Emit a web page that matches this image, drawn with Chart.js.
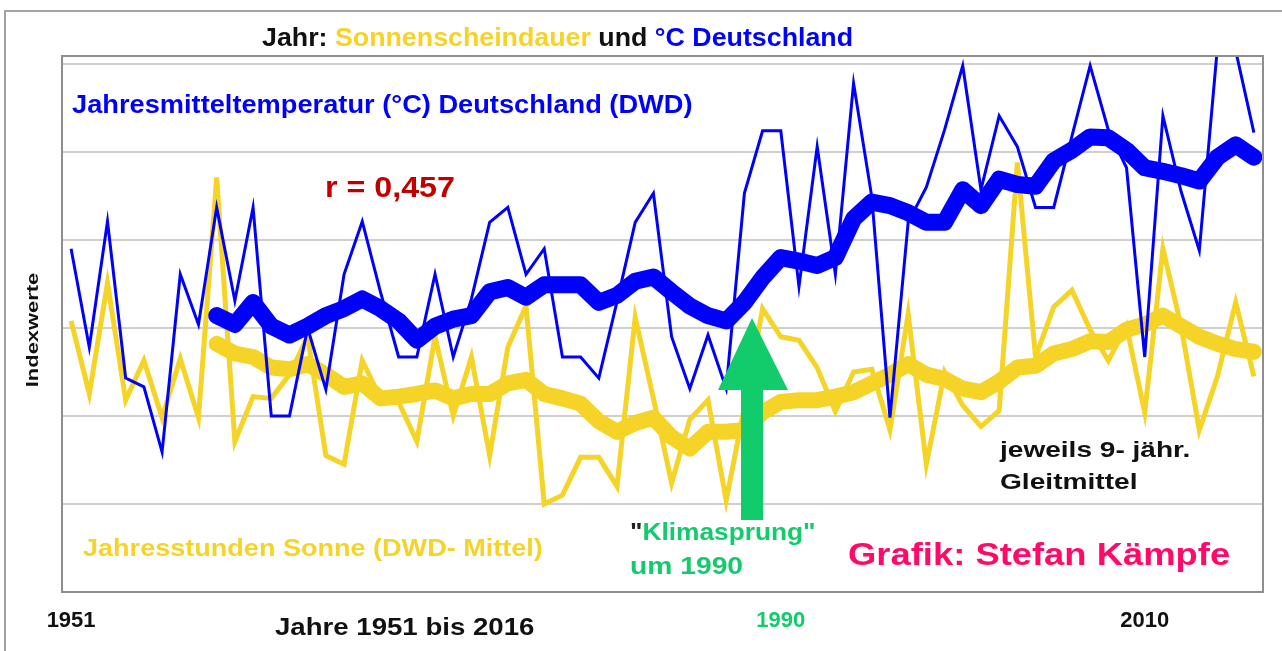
<!DOCTYPE html>
<html lang="de">
<head>
<meta charset="utf-8">
<title>Jahr: Sonnenscheindauer und °C Deutschland</title>
<script src="https://cdn.jsdelivr.net/npm/chart.js@4.4.1/dist/chart.umd.min.js"></script>
<style>
    html, body { margin: 0; padding: 0; background: #fff; }
    body { width: 1282px; height: 651px; position: relative; overflow: hidden;
           font-family: 'Liberation Sans', Arial, sans-serif; }
    #frame { position: absolute; left: 4px; top: 10px; width: 1300px; height: 700px;
             border: 2px solid #a3a3a3; box-sizing: border-box; }
    #chart { position: absolute; left: 0; top: 0; }
    .note { position: absolute; white-space: nowrap; font-weight: bold;
            transform-origin: left center; line-height: 1; }
    .yel { color: #f5d327; }
    .blu { color: #0000ff; }
    .grn { color: #12cc6c; }
    #arrow { position: absolute; left: 0; top: 0; }
</style>
</head>
<body>
<div id="frame"></div>
<canvas id="chart" width="1282" height="651"></canvas>
<svg id="arrow" width="1282" height="651">
    <polygon points="741,520 763,520 763,390 788,390 752,318 718,390 741,390" fill="#12cc6c"/>
</svg>

<div class="note" data-x="262" data-y="37" data-w="591" style="font-size:26px;color:#111">Jahr: <span class="yel">Sonnenscheindauer</span> und <span class="blu">°C Deutschland</span></div>
<div class="note blu" data-x="72" data-y="104" data-w="621" style="font-size:25px">Jahresmitteltemperatur (°C) Deutschland (DWD)</div>
<div class="note" data-x="325" data-y="187" data-w="130" style="font-size:29px;color:#c00000">r = 0,457</div>
<div class="note yel" data-x="83" data-y="548" data-w="460" style="font-size:24px">Jahresstunden Sonne (DWD- Mittel)</div>
<div class="note grn" data-x="630" data-y="532" data-w="185" style="font-size:24px"><span style="color:#222">"</span>Klimasprung"</div>
<div class="note grn" data-x="630" data-y="566" data-w="113" style="font-size:24px">um 1990</div>
<div class="note" data-x="1000" data-y="450" data-w="190" style="font-size:22px;color:#111">jeweils 9- jähr.</div>
<div class="note" data-x="1000" data-y="482" data-w="138" style="font-size:22px;color:#111">Gleitmittel</div>
<div class="note" data-x="848" data-y="554" data-w="382" style="font-size:32px;color:#ff0a68">Grafik: Stefan Kämpfe</div>
<div class="note" data-x="275" data-y="627" data-w="260" style="font-size:24px;color:#111">Jahre 1951 bis 2016</div>
<div class="note" id="yTitle" style="font-size:16px;color:#111">Indexwerte</div>

<script>
// Jahre 1951 bis 2016
const years = [
    '1951','1952','1953','1954','1955','1956','1957','1958','1959','1960',
    '1961','1962','1963','1964','1965','1966','1967','1968','1969','1970',
    '1971','1972','1973','1974','1975','1976','1977','1978','1979','1980',
    '1981','1982','1983','1984','1985','1986','1987','1988','1989','1990',
    '1991','1992','1993','1994','1995','1996','1997','1998','1999','2000',
    '2001','2002','2003','2004','2005','2006','2007','2008','2009','2010',
    '2011','2012','2013','2014','2015','2016'
];
const shownYears = ['1951', '1990', '2010'];

// Indexwerte
const tempYear = [
    3.90, 2.78, 4.21, 2.43, 2.33, 1.59, 3.61, 3.04, 4.37, 3.31,
    4.37, 2.00, 2.00, 3.00, 2.30, 3.61, 4.21, 3.41, 2.67, 2.67,
    3.61, 2.67, 3.33, 4.20, 4.37, 3.61, 3.90, 2.67, 2.67, 2.43,
    3.30, 4.20, 4.53, 2.90, 2.31, 2.92, 2.31, 4.53, 5.24, 5.24,
    3.47, 5.06, 3.61, 5.78, 4.49, 1.98, 4.20, 4.60, 5.25, 5.98,
    4.57, 5.41, 5.06, 4.37, 4.37, 5.18, 5.98, 5.25, 4.82, 2.67,
    5.41, 4.55, 3.88, 6.20, 6.15, 5.22
];
const sunYear = [
    3.08, 2.25, 3.51, 2.18, 2.63, 1.98, 2.65, 1.98, 4.71, 1.71,
    2.22, 2.20, 2.47, 2.90, 1.55, 1.45, 2.63, 2.20, 2.16, 1.71,
    2.90, 2.00, 2.67, 1.55, 2.78, 3.25, 1.00, 1.10, 1.53, 1.53,
    1.20, 3.12, 2.20, 1.24, 1.96, 2.18, 1.04, 2.10, 3.22, 2.90,
    2.86, 2.55, 2.05, 2.50, 2.53, 1.84, 3.16, 1.45, 2.50, 2.12,
    1.88, 2.06, 4.88, 2.67, 3.24, 3.43, 2.98, 2.63, 3.02, 2.04,
    3.90, 3.02, 1.84, 2.45, 3.29, 2.45
];
// 9-jaehrige Gleitmittel (erst ab dem 9. Jahr)
const tempMean9 = [
    null, null, null, null, null, null, null, null, 3.14, 3.04,
    3.29, 3.02, 2.92, 3.02, 3.14, 3.22, 3.33, 3.22, 3.08, 2.86,
    3.02, 3.10, 3.14, 3.41, 3.46, 3.35, 3.49, 3.49, 3.49, 3.29,
    3.37, 3.53, 3.58, 3.41, 3.25, 3.14, 3.08, 3.29, 3.57, 3.80,
    3.76, 3.71, 3.80, 4.24, 4.43, 4.39, 4.31, 4.20, 4.20, 4.57,
    4.39, 4.69, 4.63, 4.61, 4.90, 5.02, 5.17, 5.16, 5.02, 4.82,
    4.78, 4.73, 4.67, 4.94, 5.08, 4.94
];
const sunMean9 = [
    null, null, null, null, null, null, null, null, 2.82, 2.71,
    2.67, 2.55, 2.53, 2.59, 2.47, 2.33, 2.37, 2.20, 2.22, 2.25,
    2.29, 2.20, 2.25, 2.25, 2.37, 2.41, 2.25, 2.20, 2.14, 1.94,
    1.82, 1.92, 1.98, 1.76, 1.63, 1.82, 1.82, 1.84, 2.04, 2.16,
    2.18, 2.18, 2.22, 2.27, 2.37, 2.47, 2.59, 2.47, 2.42, 2.31,
    2.27, 2.39, 2.55, 2.57, 2.71, 2.76, 2.85, 2.84, 2.98, 3.04,
    3.14, 3.02, 2.90, 2.82, 2.76, 2.73
];

const BLUE = '#0000ff';
const YELLOW = '#f5d327';
const FONT = "'Liberation Sans', Arial, sans-serif";

document.addEventListener('DOMContentLoaded', function() {
    initializeChart();
    placeNotes();
});

function initializeChart() {
    // plot frame around the chart area
    const plotFrame = {
        id: 'plotFrame',
        afterDraw(chart) {
            const a = chart.chartArea;
            const ctx = chart.ctx;
            ctx.save();
            ctx.strokeStyle = '#8e8e8e';
            ctx.lineWidth = 2;
            ctx.strokeRect(a.left, a.top, a.right - a.left, a.bottom - a.top);
            ctx.restore();
        }
    };

    new Chart(document.getElementById('chart'), {
        type: 'line',
        data: {
            labels: years,
            datasets: [
                {
                    label: 'Jahresmitteltemperatur',
                    data: tempYear,
                    borderColor: BLUE,
                    borderWidth: 3,
                    pointRadius: 0,
                    tension: 0
                },
                {
                    label: 'Temperatur 9-j. Gleitmittel',
                    data: tempMean9,
                    borderColor: BLUE,
                    borderWidth: 17,
                    borderJoinStyle: 'round',
                    borderCapStyle: 'round',
                    pointRadius: 0,
                    tension: 0
                },
                {
                    label: 'Jahresstunden Sonne',
                    data: sunYear,
                    borderColor: YELLOW,
                    borderWidth: 5,
                    pointRadius: 0,
                    tension: 0
                },
                {
                    label: 'Sonne 9-j. Gleitmittel',
                    data: sunMean9,
                    borderColor: YELLOW,
                    borderWidth: 16,
                    borderJoinStyle: 'round',
                    borderCapStyle: 'round',
                    pointRadius: 0,
                    tension: 0
                }
            ]
        },
        options: {
            responsive: false,
            animation: false,
            devicePixelRatio: 1,
            layout: {
                padding: { left: 62, top: 56, right: 19, bottom: 19 }
            },
            plugins: {
                legend: { display: false },
                tooltip: { enabled: false }
            },
            scales: {
                x: {
                    offset: true,
                    grid: { display: false },
                    border: { display: false },
                    afterFit: s => { s.height = 40; },
                    ticks: {
                        autoSkip: false,
                        maxRotation: 0,
                        padding: 8,
                        callback: function(v, i) {
                            return shownYears.includes(years[i]) ? years[i] : '';
                        },
                        color: ctx => years[ctx.index] === '1990' ? '#12cc6c' : '#111',
                        font: { family: FONT, weight: 'bold', size: 22 }
                    }
                },
                y: {
                    min: 0,
                    max: 6.09,
                    afterFit: s => { s.width = 0; },
                    border: { display: false },
                    grid: { color: '#cfcfcf', lineWidth: 2, drawTicks: false },
                    ticks: { display: false, stepSize: 1, includeBounds: false }
                }
            }
        },
        plugins: [plotFrame]
    });
}

function placeNotes() {
    // put the text boxes where they sit in the graphic and stretch them to width
    document.querySelectorAll('.note[data-x]').forEach(el => {
        el.style.left = el.dataset.x + 'px';
        el.style.top = el.dataset.y + 'px';
        const k = parseFloat(el.dataset.w) / el.offsetWidth;
        el.style.transform = 'translateY(-50%) scaleX(' + k.toFixed(3) + ')';
    });

    const yTitle = document.getElementById('yTitle');
    yTitle.style.left = '33px';
    yTitle.style.top = '330px';
    yTitle.style.transformOrigin = 'center center';
    const k = 115 / yTitle.offsetWidth;
    yTitle.style.transform = 'translate(-50%, -50%) rotate(-90deg) scaleX(' + k.toFixed(3) + ')';
}
</script>
</body>
</html>
